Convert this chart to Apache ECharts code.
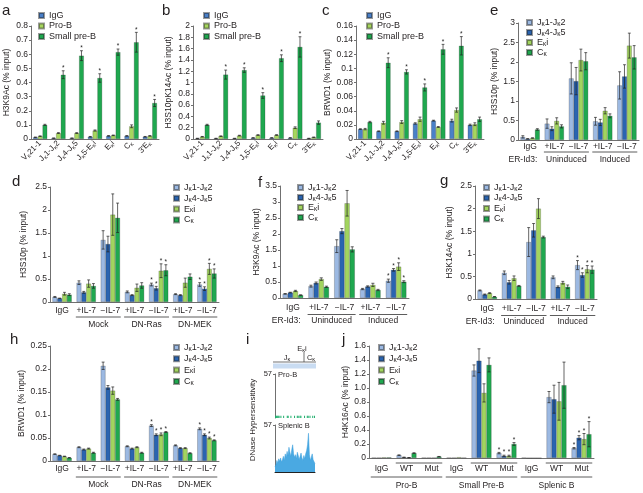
<!DOCTYPE html>
<html><head><meta charset="utf-8">
<script src="https://cdn.jsdelivr.net/npm/echarts@6/dist/echarts.min.js"></script>
<style>html,body{margin:0;padding:0;background:#fff}#c{width:643px;height:493px}</style>
</head><body><div id="c"></div>
<script>
// ---------------- DATA ----------------
// panels a-c
const abcCats = ['Vκ21-1','Jκ1-Jκ2','Jκ4-Jκ5','Jκ5-Eκi','Eκi','Cκ',"3'Eκ"];
const abcNames = ['IgG','Pro-B','Small pre-B'];
const aIgG = [0.012,0.006,0.006,0.016,0.022,0.022,0.016];
const aProB = [0.02,0.042,0.042,0.06,0.026,0.09,0.022];
const aPreB = [0.10,0.455,0.59,0.432,0.615,0.685,0.255];
const aIgGErr = [0.002,0.001,0.001,0.002,0.002,0.002,0.002];
const aProBErr = [0.002,0.003,0.003,0.004,0.002,0.01,0.002];
const aPreBErr = [0.004,0.028,0.035,0.03,0.022,0.07,0.025];
const aStar = [0,1,1,1,1,1,1];

const bIgG = [0.01,0.01,0.01,0.02,0.02,0.02,0.01];
const bProB = [0.04,0.05,0.06,0.07,0.07,0.20,0.03];
const bPreB = [0.25,1.14,1.22,0.77,1.43,1.63,0.29];
const bIgGErr = [0.003,0.003,0.003,0.003,0.003,0.004,0.003];
const bProBErr = [0.005,0.005,0.006,0.006,0.006,0.015,0.005];
const bPreBErr = [0.01,0.08,0.04,0.05,0.06,0.18,0.03];
const bStar = [0,1,1,1,1,1,0];

const cIgG = [0.014,0.011,0.011,0.022,0.026,0.026,0.020];
const cProB = [0.014,0.023,0.024,0.028,0.017,0.041,0.021];
const cPreB = [0.024,0.108,0.095,0.073,0.127,0.132,0.028];
const cIgGErr = [0.0005,0.0005,0.0005,0.001,0.0006,0.002,0.001];
const cProBErr = [0.001,0.002,0.002,0.003,0.0006,0.003,0.002];
const cPreBErr = [0.001,0.007,0.003,0.005,0.007,0.013,0.003];
const cStar = [0,1,1,1,1,1,0];

// panels d-j
const locNames = ['Jκ1-Jκ2','Jκ4-Jκ5','Eκi','Cκ'];
const idCats = ['IgG','+IL-7','\u2212IL-7','+IL-7','\u2212IL-7'];
const dhCats = ['IgG','+IL-7','\u2212IL-7','+IL-7','\u2212IL-7','+IL-7','\u2212IL-7'];
const dhGroups = ['Mock','DN-Ras','DN-MEK'];
const idGroups = ['Uninduced','Induced'];

const eJ12 = [0.08,0.42,1.58,0.48,1.40], eJ12Err = [0.03,0.12,0.40,0.10,0.35];
const eJ45 = [0.03,0.29,1.51,0.45,1.63], eJ45Err = [0.005,0.05,0.35,0.08,0.30];
const eEki = [0.05,0.49,2.05,0.75,2.42], eEkiErr = [0.005,0.08,0.28,0.08,0.32];
const eCk  = [0.27,0.35,2.02,0.62,2.12], eCkErr  = [0.02,0.04,0.22,0.05,0.30];

const dJ12 = [0.11,0.42,1.35,0.22,0.38,0.17,0.38], dJ12Err = [0.01,0.04,0.20,0.02,0.03,0.01,0.04];
const dJ45 = [0.08,0.21,1.26,0.15,0.30,0.15,0.29], dJ45Err = [0.005,0.02,0.17,0.01,0.04,0.01,0.04];
const dEki = [0.18,0.40,1.90,0.31,0.68,0.42,0.72], dEkiErr = [0.03,0.08,0.45,0.08,0.15,0.10,0.12];
const dCk  = [0.16,0.35,1.83,0.36,0.69,0.55,0.62], dCkErr  = [0.02,0.05,0.32,0.06,0.12,0.06,0.10];
const dStar = [0,0,0,0,1,0,1];

const fJ12 = [0.13,0.37,1.62,0.28,0.54], fJ12Err = [0.01,0.03,0.20,0.02,0.05];
const fJ45 = [0.17,0.47,2.09,0.36,0.88], fJ45Err = [0.01,0.03,0.08,0.02,0.04];
const fEki = [0.22,0.59,2.96,0.41,0.98], fEkiErr = [0.02,0.04,0.40,0.05,0.12];
const fCk  = [0.09,0.35,1.52,0.25,0.51], fCkErr  = [0.01,0.02,0.08,0.02,0.03];
const fStar = [0,0,0,0,1];

const gJ12 = [0.19,0.58,1.26,0.48,0.75], gJ12Err = [0.01,0.04,0.32,0.03,0.10];
const gJ45 = [0.10,0.37,1.52,0.27,0.53], gJ45Err = [0.01,0.04,0.15,0.02,0.05];
const gEki = [0.13,0.46,2.00,0.36,0.66], gEkiErr = [0.01,0.05,0.22,0.03,0.08];
const gCk  = [0.05,0.29,1.37,0.27,0.65], gCkErr  = [0.005,0.01,0.02,0.04,0.08];
const gStar = [0,0,0,0,1];

const hJ12 = [0.015,0.030,0.207,0.032,0.077,0.034,0.070], hJ12Err = [0.0005,0.001,0.008,0.001,0.002,0.001,0.002];
const hJ45 = [0.012,0.025,0.160,0.027,0.057,0.028,0.057], hJ45Err = [0.0005,0.001,0.004,0.001,0.002,0.001,0.002];
const hEki = [0.010,0.027,0.153,0.030,0.058,0.028,0.050], hEkiErr = [0.0005,0.001,0.008,0.001,0.003,0.001,0.002];
const hCk  = [0.007,0.018,0.134,0.018,0.063,0.017,0.045], hCkErr  = [0.0005,0.001,0.002,0.001,0.001,0.001,0.001];
const hStar = [0,0,0,0,1,0,1];

const jCats = ['IgG','WT','Mut','IgG','WT','Mut','IgG','WT','Mut'];
const jGroups = ['Pro-B','Small Pre-B','Splenic B'];
const jJ12 = [0.005,0.04,0.005,0.005,1.25,0.07,0.005,0.87,0.14], jJ12Err = [0,0.005,0,0,0.08,0.01,0,0.08,0.01];
const jJ45 = [0.005,0.01,0.005,0.005,1.39,0.03,0,0.84,0.29],   jJ45Err = [0,0.002,0,0,0.17,0.01,0,0.20,0.03];
const jEki = [0.01,0.005,0.005,0.012,0.93,0.03,0,0.81,0.27],   jEkiErr = [0,0.002,0,0,0.13,0.01,0,0.27,0.08];
const jCk  = [0.01,0.07,0.02,0.005,1.33,0.20,0,1.04,0.34],     jCkErr  = [0,0.005,0.002,0,0.10,0.02,0,0.33,0.18];
const jStar = [0,0,0,0,0,1,0,0,1];

// panel i : DNase hypersensitivity tracks (0..57)
const iProB = [3,3,3,3,3,0,3,0,0,3,0,0,0,3,3,0,0,3,0,0,0,3,0,0,3,3,0,3,3,0,0,0,3,0,0,3,3,0,3,0,0,3,0,3];
const iSplB = [6,9,14,11,16,13,17,12,15,19,14,22,18,25,20,30,24,19,27,33,22,18,21,16,24,20,15,19,23,17,14,20,16,22,26,33,47,21,14,18,22,15,13,10];

// ---------------- STYLE ----------------
const FONT = '"Liberation Sans", Arial, Helvetica, sans-serif';
const TXT = '#231f20';
const AX = '#707070';
const C3 = ['#4a80c8','#a6d65e','#1fa84f'];
const C4 = ['#9cb9e2','#2a64b0','#a2d45f','#1fa84f'];

function sub(s){ return String(s).replace(/κ/g,'{s|κ}'); }
function richFor(fs){ return { s:{ fontSize:fs*0.72, fontFamily:FONT, color:TXT, verticalAlign:'bottom', lineHeight:fs*0.85 } }; }

const option = {animation:false, backgroundColor:'#fff', grid:[], xAxis:[], yAxis:[], series:[], legend:[]};
const groupSpecs = [];

function errRenderer(n,k,gap){
  return function(params, api){
    const ci = api.value(0), v = api.value(1), e = api.value(2), st = api.value(3);
    const bw = api.size([1,0])[0];
    const gw = bw*(1-gap), w = gw/n;
    const cx = api.coord([ci,0])[0] - gw/2 + w*(k+0.5);
    const yt = api.coord([ci, v+e])[1];
    const yb = api.coord([ci, Math.max(v-e,0)])[1];
    const cap = Math.max(w*0.3,1);
    const ch = [];
    if (e > 0) {
      const ls = {stroke:'#222', lineWidth:0.7};
      ch.push({type:'line', shape:{x1:cx,y1:yt,x2:cx,y2:yb}, style:ls});
      ch.push({type:'line', shape:{x1:cx-cap,y1:yt,x2:cx+cap,y2:yt}, style:ls});
      ch.push({type:'line', shape:{x1:cx-cap,y1:yb,x2:cx+cap,y2:yb}, style:ls});
    }
    if (st) ch.push({type:'text', style:{text:'*', x:cx, y:yt+1, align:'center', verticalAlign:'bottom', fontSize:6.5, fontFamily:FONT, fill:'#222'}});
    return {type:'group', children:ch};
  };
}

function addPanel(p){
  const gi = option.grid.length;
  option.grid.push({left:p.left, top:p.top, width:p.width, height:p.height});
  const fs = p.fs || 8.5;
  option.xAxis.push({
    type:'category', gridIndex:gi, data:p.cats,
    axisLine:{lineStyle:{color:AX,width:1}}, axisTick:{show:false},
    axisLabel:{interval:0, rotate:p.rotate||0, margin:p.labelMargin, fontSize:fs, fontFamily:FONT, color:TXT, lineHeight:10, formatter:sub, rich:richFor(fs)}
  });
  option.yAxis.push({
    type:'value', gridIndex:gi, min:0, max:p.max, interval:p.interval,
    name:p.yName, nameLocation:'middle', nameGap:p.nameGap,
    nameTextStyle:{fontSize:8.5, fontFamily:FONT, color:TXT},
    axisLine:{show:true, lineStyle:{color:AX,width:1}},
    axisTick:{show:true, length:2, lineStyle:{color:AX}},
    splitLine:{show:false},
    axisLabel:{fontSize:8.5, fontFamily:FONT, color:TXT, margin:3, formatter:p.yFmt}
  });
  const n = p.series.length;
  p.series.forEach((s,k)=>{
    option.series.push({type:'bar', name:s.name, xAxisIndex:gi, yAxisIndex:gi, data:s.values,
      barGap:'0%', barCategoryGap:(p.gap*100)+'%',
      itemStyle:{color:p.colors[k], borderColor:'rgba(30,30,30,0.45)', borderWidth:0.5}, silent:true});
    option.series.push({type:'custom', name:'_err', xAxisIndex:gi, yAxisIndex:gi,
      data:s.values.map((v,i)=>[i, v, s.err[i], s.star ? s.star[i] : 0]),
      renderItem:errRenderer(n,k,p.gap), z:10, silent:true, clip:false});
  });
  option.legend.push({
    left:p.legend.left, top:p.legend.top, orient:'vertical', padding:0,
    itemWidth:5, itemHeight:5, itemGap:p.legend.gap, icon:'rect', selectedMode:false,
    data:p.series.map(s=>s.name), formatter:sub,
    textStyle:{fontSize:9, fontFamily:FONT, color:TXT, lineHeight:9, rich:richFor(9)}
  });
  if (p.groups) { p.groups.axis = gi; groupSpecs.push(p.groups); }
}

function mk(names, vals, errs, stars){ return names.map((nm,k)=>({name:nm, values:vals[k], err:errs[k], star:stars?stars[k]:null})); }

// a
addPanel({left:31, top:26, width:128, height:113, max:0.8, interval:0.1, yName:'H3K9Ac (% input)', nameGap:20,
  cats:abcCats, rotate:45, labelMargin:3, fs:8, gap:0.22, colors:C3,
  series:mk(abcNames,[aIgG,aProB,aPreB],[aIgGErr,aProBErr,aPreBErr],[null,null,aStar]),
  legend:{left:38, top:11, gap:1.5}});
// b
addPanel({left:193, top:26, width:130, height:113, max:2, interval:0.2, yName:'H3S10pK14Ac (% input)', nameGap:20,
  cats:abcCats, rotate:45, labelMargin:3, fs:8, gap:0.22, colors:C3,
  series:mk(abcNames,[bIgG,bProB,bPreB],[bIgGErr,bProBErr,bPreBErr],[null,null,bStar]),
  legend:{left:203, top:11, gap:1.5}});
// c
addPanel({left:356, top:26, width:128, height:113, max:0.16, interval:0.02, yName:'BRWD1 (% input)', nameGap:22,
  cats:abcCats, rotate:45, labelMargin:3, fs:8, gap:0.22, colors:C3,
  series:mk(abcNames,[cIgG,cProB,cPreB],[cIgGErr,cProBErr,cPreBErr],[null,null,cStar]),
  legend:{left:366, top:11, gap:1.5}});
// e
addPanel({left:518, top:23, width:121, height:117, max:3, interval:0.5, yName:'H3S10p (% input)', nameGap:15,
  cats:idCats, labelMargin:2, gap:0.2, colors:C4,
  series:mk(locNames,[eJ12,eJ45,eEki,eCk],[eJ12Err,eJ45Err,eEkiErr,eCkErr]),
  legend:{left:526, top:18, gap:1},
  groups:{prefix:'ER-Id3:', prefixDy:20, lines:[{from:1,to:2,dy:12,text:idGroups[0],ty:20},{from:3,to:4,dy:12,text:idGroups[1],ty:20}]}});
// d
addPanel({left:50, top:187, width:169, height:115, max:2.5, interval:0.5, yName:'H3S10p (% input)', nameGap:22,
  cats:dhCats, labelMargin:3.5, gap:0.2, colors:C4,
  series:mk(locNames,[dJ12,dJ45,dEki,dCk],[dJ12Err,dJ45Err,dEkiErr,dCkErr],[dStar,dStar,dStar,dStar]),
  legend:{left:173, top:183, gap:1.8},
  groups:{lines:[{from:1,to:2,dy:15,text:dhGroups[0],ty:23},{from:3,to:4,dy:15,text:dhGroups[1],ty:23},{from:5,to:6,dy:15,text:dhGroups[2],ty:23}]}});
// f
addPanel({left:280, top:186, width:129, height:112, max:3.5, interval:0.5, yName:'H3K9Ac (% input)', nameGap:15,
  cats:idCats, labelMargin:4.5, gap:0.2, colors:C4,
  series:mk(locNames,[fJ12,fJ45,fEki,fCk],[fJ12Err,fJ45Err,fEkiErr,fCkErr],[fStar,fStar,fStar,fStar]),
  legend:{left:297, top:183, gap:1},
  groups:{prefix:'ER-Id3:', prefixDy:22.5, lines:[{from:1,to:2,dy:16.5,text:idGroups[0],ty:22.5},{from:3,to:4,dy:16.5,text:idGroups[1],ty:22.5}]}});
// g
addPanel({left:475, top:186, width:122, height:113, max:2.5, interval:0.5, yName:'H3K14Ac (% input)', nameGap:21,
  cats:idCats, labelMargin:4.5, gap:0.2, colors:C4,
  series:mk(locNames,[gJ12,gJ45,gEki,gCk],[gJ12Err,gJ45Err,gEkiErr,gCkErr],[gStar,gStar,gStar,gStar]),
  legend:{left:483, top:183, gap:1.5},
  groups:{prefix:'ER-Id3:', prefixDy:22.5, lines:[{from:1,to:2,dy:16.5,text:idGroups[0],ty:22.5},{from:3,to:4,dy:16.5,text:idGroups[1],ty:22.5}]}});
// h
addPanel({left:50, top:346, width:169, height:115, max:0.25, interval:0.05, yName:'BRWD1 (% input)', nameGap:23,
  cats:dhCats, labelMargin:2.5, gap:0.2, colors:C4,
  series:mk(locNames,[hJ12,hJ45,hEki,hCk],[hJ12Err,hJ45Err,hEkiErr,hCkErr],[hStar,hStar,hStar,hStar]),
  legend:{left:173, top:343, gap:2.3},
  groups:{lines:[{from:1,to:2,dy:16,text:dhGroups[0],ty:24},{from:3,to:4,dy:16,text:dhGroups[1],ty:24},{from:5,to:6,dy:16,text:dhGroups[2],ty:24}]}});
// j
addPanel({left:369, top:346, width:225, height:112, max:1.6, interval:0.2, yName:'H4K16Ac (% input)', nameGap:19,
  yFmt:function(v){return v===0?'0':v.toFixed(1);},
  cats:jCats, labelMargin:5.5, gap:0.2, colors:C4,
  series:mk(locNames,[jJ12,jJ45,jEki,jCk],[jJ12Err,jJ45Err,jEkiErr,jCkErr],[jStar,jStar,jStar,jStar]),
  legend:{left:378, top:343, gap:2.3},
  groups:{lines:[{from:1,to:2,dy:5},{from:4,to:5,dy:5},{from:7,to:8,dy:5},
    {from:0,to:2,dy:19,text:jGroups[0],ty:28},{from:3,to:5,dy:19,text:jGroups[1],ty:28},{from:6,to:8,dy:19,text:jGroups[2],ty:28}]}});

// panel i : two track grids
const iIdx = iSplB.map((v,i)=>String(i));
[[374,44,iProB,'bar'],[425,47,iSplB,'line']].forEach(function(t){
  const gi = option.grid.length;
  option.grid.push({left:275, top:t[0], width:40, height:t[1]});
  option.xAxis.push({type:'category', gridIndex:gi, data:iIdx, boundaryGap:t[3]==='bar',
    axisLine:{show:t[3]==='line', lineStyle:{color:'#222',width:1}}, axisTick:{show:false}, axisLabel:{show:false}});
  option.yAxis.push({type:'value', gridIndex:gi, min:0, max:57, interval:57,
    axisLine:{show:true, lineStyle:{color:AX,width:1}}, axisTick:{show:true,length:2,lineStyle:{color:AX}},
    splitLine:{show:false}, axisLabel:{showMinLabel:false, fontSize:7.5, fontFamily:FONT, color:TXT, margin:3}});
  if (t[3]==='bar') {
    option.series.push({type:'bar', xAxisIndex:gi, yAxisIndex:gi, data:t[2], barCategoryGap:'0%', itemStyle:{color:'#1fae6c'}, silent:true});
  } else {
    option.series.push({type:'line', xAxisIndex:gi, yAxisIndex:gi, data:t[2], symbol:'none',
      lineStyle:{width:0.5,color:'#3b9fdc'}, areaStyle:{color:'#4aa9e2', opacity:1}, silent:true});
  }
});

const chart = echarts.init(document.getElementById('c'), null, {renderer:'canvas'});
chart.setOption(option);

// ---------- annotations (group lines / labels computed from axes) ----------
const gfx = [];
const T = (text,x,y,extra) => Object.assign({type:'text', silent:true, style:Object.assign({text:text, x:x, y:y, fontSize:8.5, fontFamily:FONT, fill:TXT, align:'center', verticalAlign:'middle'}, extra||{})});
groupSpecs.forEach(function(sp){
  const cx = i => chart.convertToPixel({xAxisIndex:sp.axis}, i);
  const bw = cx(1) - cx(0);
  const y0 = chart.convertToPixel({yAxisIndex:sp.axis}, 0);
  sp.lines.forEach(function(L){
    const x1 = cx(L.from) - 0.43*bw, x2 = cx(L.to) + 0.43*bw, y = y0 + L.dy;
    gfx.push({type:'line', silent:true, shape:{x1:x1,y1:y,x2:x2,y2:y}, style:{stroke:'#333', lineWidth:0.8}});
    if (L.text) gfx.push(T(L.text, (cx(L.from)+cx(L.to))/2, y0 + L.ty));
  });
  if (sp.prefix) gfx.push(T(sp.prefix, cx(0) + 0.3*bw, y0 + sp.prefixDy, {align:'right'}));
});

// panel letters
[['a',2,11],['b',162,11],['c',322,11],['e',490,11],['d',12,182],['f',258,183],['g',440,181],['h',10,340],['i',246,340],['j',342,340]]
  .forEach(l => gfx.push(T(l[0], l[1], l[2], {fontSize:15, align:'left'})));

// panel i decorations
const rs = {s:{fontSize:5.5, fontFamily:FONT, color:TXT, verticalAlign:'bottom', lineHeight:7}};
gfx.push(T('E{s|κ}i', 302, 349, {fontSize:7.5, rich:rs, lineHeight:9}));
gfx.push(T('J{s|κ}', 287, 358, {fontSize:7.5, rich:rs, lineHeight:9}));
gfx.push(T('C{s|κ}', 311, 358, {fontSize:7.5, rich:rs, lineHeight:9}));
gfx.push({type:'line', silent:true, shape:{x1:304,y1:352,x2:304,y2:362}, style:{stroke:'#333',lineWidth:0.7}});
gfx.push({type:'line', silent:true, shape:{x1:273,y1:362,x2:316,y2:362}, style:{stroke:'#333',lineWidth:0.7}});
gfx.push({type:'rect', silent:true, shape:{x:273,y:363.5,width:43,height:5}, style:{fill:'#c9dcf2'}});
gfx.push(T('Pro-B', 278, 375, {fontSize:7.5, align:'left'}));
gfx.push(T('Splenic B', 278, 426, {fontSize:7.5, align:'left'}));
gfx.push({type:'text', silent:true, x:253, y:420, rotation:Math.PI/2,
  style:{text:'DNase Hypersensitivity', x:0, y:0, fontSize:8, fontFamily:FONT, fill:TXT, align:'center', verticalAlign:'middle'}});

chart.setOption({graphic:gfx});
</script></body></html>
